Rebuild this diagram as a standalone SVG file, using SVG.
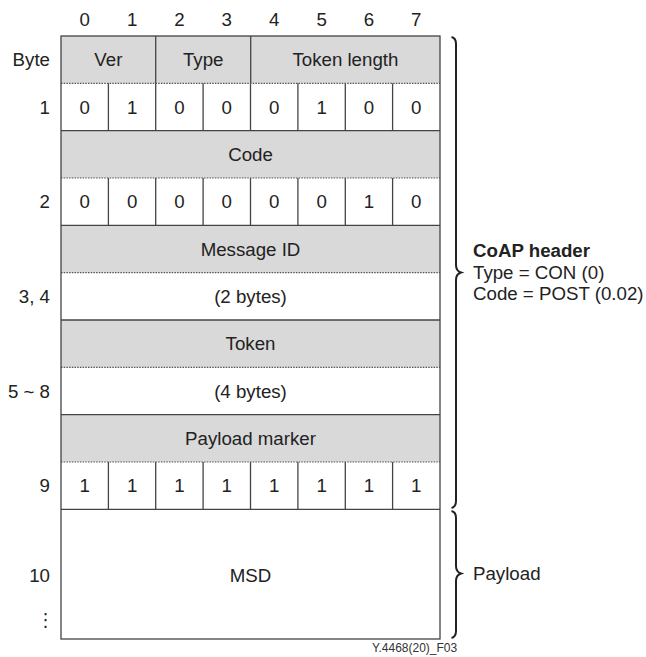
<svg xmlns="http://www.w3.org/2000/svg" width="646" height="657" viewBox="0 0 646 657">
<style>
text{font-family:"Liberation Sans",Arial,sans-serif;font-size:18.7px;fill:#222}
.c{text-anchor:middle}
.r{text-anchor:end}
.g{fill:#d9d9d9}
.w{fill:#fff}
.ln{stroke:#444;stroke-width:1.3;fill:none}
.dt{stroke:#555;stroke-width:1.2;stroke-dasharray:1.5 1.2;fill:none}
.br{stroke:#222;stroke-width:2;fill:none}
</style>
<rect width="646" height="657" fill="#fff"/>
<g id="colnums">
<text class="c" x="84.7" y="26">0</text>
<text class="c" x="132.1" y="26">1</text>
<text class="c" x="179.4" y="26">2</text>
<text class="c" x="226.8" y="26">3</text>
<text class="c" x="274.2" y="26">4</text>
<text class="c" x="321.6" y="26">5</text>
<text class="c" x="368.9" y="26">6</text>
<text class="c" x="416.3" y="26">7</text>
</g>
<g id="rowlabels">
<text class="r" x="50" y="66.3">Byte</text>
<text class="r" x="50" y="113.7">1</text>
<text class="r" x="50" y="208.3">2</text>
<text class="r" x="50" y="303">3, 4</text>
<text class="r" x="50" y="397.7">5 ~ 8</text>
<text class="r" x="50" y="492.3">9</text>
<text class="r" x="50" y="581.7">10</text>
<text x="36.5" y="626" style="font-family:'DejaVu Sans',sans-serif;font-size:18px">⋮</text>
</g>
<g id="row-hdr">
<rect class="g" x="61" y="36" width="379" height="47.3"/>
<line class="ln" x1="155.7" y1="36" x2="155.7" y2="83.3"/>
<line class="ln" x1="250.7" y1="36" x2="250.7" y2="83.3"/>
<text class="c" x="108.4" y="66.3">Ver</text>
<text class="c" x="203.2" y="66.3">Type</text>
<text class="c" x="345.4" y="66.3">Token length</text>
</g>
<g id="row-byte1">
<line class="ln" x1="108.4" y1="83.3" x2="108.4" y2="130.6"/>
<line class="ln" x1="155.7" y1="83.3" x2="155.7" y2="130.6"/>
<line class="ln" x1="203.1" y1="83.3" x2="203.1" y2="130.6"/>
<line class="ln" x1="250.5" y1="83.3" x2="250.5" y2="130.6"/>
<line class="ln" x1="297.9" y1="83.3" x2="297.9" y2="130.6"/>
<line class="ln" x1="345.3" y1="83.3" x2="345.3" y2="130.6"/>
<line class="ln" x1="392.6" y1="83.3" x2="392.6" y2="130.6"/>
<text class="c" x="84.7" y="113.7">0</text>
<text class="c" x="132.1" y="113.7">1</text>
<text class="c" x="179.4" y="113.7">0</text>
<text class="c" x="226.8" y="113.7">0</text>
<text class="c" x="274.2" y="113.7">0</text>
<text class="c" x="321.6" y="113.7">1</text>
<text class="c" x="368.9" y="113.7">0</text>
<text class="c" x="416.3" y="113.7">0</text>
</g>
<g id="row-code">
<rect class="g" x="61" y="130.6" width="379" height="47.4"/>
<text class="c" x="250.5" y="161">Code</text>
</g>
<g id="row-byte2">
<line class="ln" x1="108.4" y1="178" x2="108.4" y2="225.3"/>
<line class="ln" x1="155.7" y1="178" x2="155.7" y2="225.3"/>
<line class="ln" x1="203.1" y1="178" x2="203.1" y2="225.3"/>
<line class="ln" x1="250.5" y1="178" x2="250.5" y2="225.3"/>
<line class="ln" x1="297.9" y1="178" x2="297.9" y2="225.3"/>
<line class="ln" x1="345.3" y1="178" x2="345.3" y2="225.3"/>
<line class="ln" x1="392.6" y1="178" x2="392.6" y2="225.3"/>
<text class="c" x="84.7" y="208.3">0</text>
<text class="c" x="132.1" y="208.3">0</text>
<text class="c" x="179.4" y="208.3">0</text>
<text class="c" x="226.8" y="208.3">0</text>
<text class="c" x="274.2" y="208.3">0</text>
<text class="c" x="321.6" y="208.3">0</text>
<text class="c" x="368.9" y="208.3">1</text>
<text class="c" x="416.3" y="208.3">0</text>
</g>
<g id="row-msgid">
<rect class="g" x="61" y="225.3" width="379" height="47.3"/>
<text class="c" x="250.5" y="255.7">Message ID</text>
<text class="c" x="250.5" y="303">(2 bytes)</text>
</g>
<g id="row-token">
<rect class="g" x="61" y="320" width="379" height="47.3"/>
<text class="c" x="250.5" y="350.4">Token</text>
<text class="c" x="250.5" y="397.7">(4 bytes)</text>
</g>
<g id="row-payloadmarker">
<rect class="g" x="61" y="414.6" width="379" height="47.4"/>
<text class="c" x="250.5" y="445">Payload marker</text>
</g>
<g id="row-byte9">
<line class="ln" x1="108.4" y1="462" x2="108.4" y2="509.3"/>
<line class="ln" x1="155.7" y1="462" x2="155.7" y2="509.3"/>
<line class="ln" x1="203.1" y1="462" x2="203.1" y2="509.3"/>
<line class="ln" x1="250.5" y1="462" x2="250.5" y2="509.3"/>
<line class="ln" x1="297.9" y1="462" x2="297.9" y2="509.3"/>
<line class="ln" x1="345.3" y1="462" x2="345.3" y2="509.3"/>
<line class="ln" x1="392.6" y1="462" x2="392.6" y2="509.3"/>
<text class="c" x="84.7" y="492.3">1</text>
<text class="c" x="132.1" y="492.3">1</text>
<text class="c" x="179.4" y="492.3">1</text>
<text class="c" x="226.8" y="492.3">1</text>
<text class="c" x="274.2" y="492.3">1</text>
<text class="c" x="321.6" y="492.3">1</text>
<text class="c" x="368.9" y="492.3">1</text>
<text class="c" x="416.3" y="492.3">1</text>
</g>
<g id="row-msd">
<text class="c" x="250.5" y="581.7">MSD</text>
</g>
<g id="separators">
<line class="dt" x1="61" y1="83.3" x2="440" y2="83.3"/>
<line class="dt" x1="61" y1="178" x2="440" y2="178"/>
<line class="dt" x1="61" y1="272.6" x2="440" y2="272.6"/>
<line class="dt" x1="61" y1="367.3" x2="440" y2="367.3"/>
<line class="dt" x1="61" y1="462" x2="440" y2="462"/>
<line class="ln" x1="61" y1="130.6" x2="440" y2="130.6"/>
<line class="ln" x1="61" y1="225.3" x2="440" y2="225.3"/>
<line class="ln" x1="61" y1="320" x2="440" y2="320"/>
<line class="ln" x1="61" y1="414.6" x2="440" y2="414.6"/>
<line class="ln" x1="61" y1="509.3" x2="440" y2="509.3"/>
<rect class="ln" x="61" y="36" width="379" height="603"/>
</g>
<g id="brace-header">
<path class="br" d="M451.5,37 Q456,38 456,44 L456,265 Q456,271 461,272.5 Q456,274 456,280 L456,501 Q456,507 451.5,508"/>
<text x="473" y="257" style="font-weight:bold">CoAP header</text>
<text x="473" y="278.5">Type = CON (0)</text>
<text x="473" y="300">Code = POST (0.02)</text>
</g>
<g id="brace-payload">
<path class="br" d="M451.5,511 Q456,512 456,518 L456,566 Q456,572 461,573.5 Q456,575 456,581 L456,631 Q456,637 451.5,638"/>
<text x="473" y="580">Payload</text>
</g>
<text x="372" y="652" style="font-size:12px;fill:#333">Y.4468(20)_F03</text>
</svg>
